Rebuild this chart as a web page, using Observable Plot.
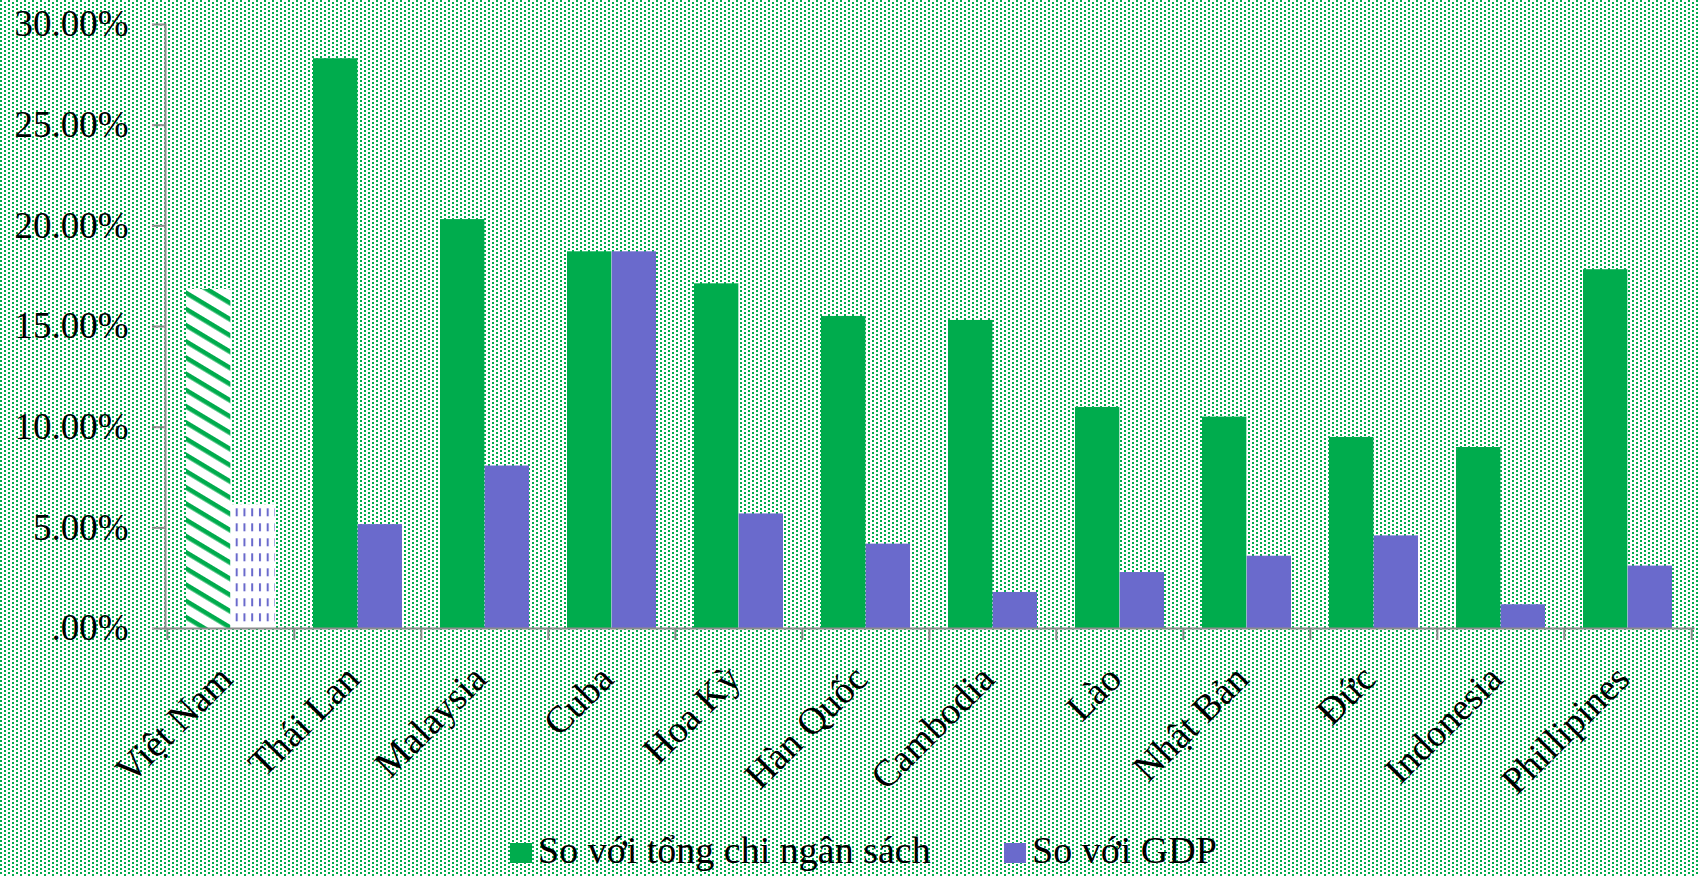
<!DOCTYPE html>
<html>
<head>
<meta charset="utf-8">
<script src="https://cdn.jsdelivr.net/npm/d3@7"></script>
<script src="https://cdn.jsdelivr.net/npm/@observablehq/plot@0.6"></script>
<style>
  html, body { margin: 0; padding: 0; }
  body {
    width: 1698px; height: 876px; position: relative; overflow: hidden;
    background-color: #ffffff;
    background-image: url("data:image/svg+xml;utf8,<svg xmlns='http://www.w3.org/2000/svg' width='8' height='4'><rect x='0' y='0' width='2' height='2' fill='%2300AC4D'/><rect x='4' y='2' width='2' height='2' fill='%2300AC4D'/></svg>");
    background-repeat: repeat;
    font-family: "Liberation Serif", "Times New Roman", serif;
  }
  #chart svg { display: block; }
  #legend { position: absolute; left: 0; top: 810px; width: 1698px; height: 66px; }
  .item { position: absolute; top: 21px; font-size: 38px; line-height: 38px; white-space: nowrap; color: #000; }
  .sw { display: inline-block; width: 22px; height: 20px; margin-right: 6px; vertical-align: baseline; }
</style>
</head>
<body>
<svg width="0" height="0" style="position:absolute">
  <defs>
    <pattern id="hatchG" patternUnits="userSpaceOnUse" width="20" height="13.9" patternTransform="rotate(31)">
      <rect x="0" y="0" width="20" height="13.9" fill="#ffffff"/>
      <rect x="0" y="0" width="20" height="4.6" fill="#00AC4D"/>
    </pattern>
    <pattern id="dashP" patternUnits="userSpaceOnUse" x="235.7" y="508.3" width="7.75" height="15">
      <rect x="0" y="0" width="7.75" height="15" fill="#ffffff"/>
      <rect x="0" y="0" width="2" height="8" fill="#6A6ACC"/>
    </pattern>
  </defs>
</svg>
<div id="chart"></div>
<div id="legend"></div>
<script>
const countries = ["Việt Nam","Thái Lan","Malaysia","Cuba","Hoa Kỳ","Hàn Quốc","Cambodia","Lào","Nhật Bản","Đức","Indonesia","Phillipines"];
const budgetShare = [16.84, 28.30, 20.31, 18.71, 17.12, 15.50, 15.30, 10.98, 10.50, 9.49, 8.99, 17.82];
const gdpShare = [6.15, 5.16, 8.07, 18.71, 5.69, 4.19, 1.79, 2.78, 3.59, 4.60, 1.18, 3.10];
const seriesNames = ["So với tổng chi ngân sách", "So với GDP"];
const seriesColors = ["#00AC4D", "#6A6ACC"];
const yTicks = [0, 5, 10, 15, 20, 25, 30];

const rows = countries.map((c, i) => ({country: c, budget: budgetShare[i], gdp: gdpShare[i], highlight: i === 0}));

const W = 1698, H = 810, ML = 165, MR = 5, MT = 24, MB = 182;
const step = (W - ML - MR) / countries.length;
const gap = 19;
const gray = "#8c8c8c";
const fmt = d => d === 0 ? ".00%" : d.toFixed(2) + "%";

const chart = Plot.plot({
  width: W, height: H,
  marginLeft: ML, marginRight: MR, marginTop: MT, marginBottom: MB,
  style: {background: "transparent", fontFamily: "'Liberation Serif', 'Times New Roman', serif", color: "#000", overflow: "visible"},
  x: {domain: countries, paddingInner: 0, paddingOuter: 0, label: null},
  y: {domain: [0, 30], label: null},
  marks: [
    Plot.barY(rows, {x: "country", y: "budget", fill: d => d.highlight ? "url(#hatchG)" : seriesColors[0], insetLeft: gap, insetRight: step / 2}),
    Plot.barY(rows, {x: "country", y: "gdp", fill: d => d.highlight ? "url(#dashP)" : seriesColors[1], insetLeft: step / 2, insetRight: gap}),
    Plot.frame({anchor: "left", stroke: gray, strokeWidth: 2}),
    Plot.frame({anchor: "bottom", stroke: gray, strokeWidth: 2}),
    Plot.axisY({ticks: yTicks, tickFormat: fmt, tickSize: 13, tickPadding: 24, stroke: gray, strokeWidth: 2, fontSize: 37, label: null}),
    Plot.axisX({tickSize: 12, tickFormat: () => "", stroke: gray, strokeWidth: 2, dx: -step / 2, label: null}),
    Plot.axisX({ticks: [countries[countries.length - 1]], tickSize: 12, tickFormat: () => "", stroke: gray, strokeWidth: 2, dx: step / 2, label: null}),
    Plot.axisX({tickSize: 0, tickPadding: 44, tickRotate: -45, fontSize: 38, dx: -5, label: null})
  ]
});
document.getElementById("chart").appendChild(chart);

const legend = document.getElementById("legend");
const lefts = [510, 1004];
seriesNames.forEach((name, i) => {
  const item = document.createElement("div");
  item.className = "item";
  item.style.left = lefts[i] + "px";
  const sw = document.createElement("span");
  sw.className = "sw";
  sw.style.background = seriesColors[i];
  const tx = document.createElement("span");
  tx.textContent = name;
  item.appendChild(sw);
  item.appendChild(tx);
  legend.appendChild(item);
});
</script>
</body>
</html>
